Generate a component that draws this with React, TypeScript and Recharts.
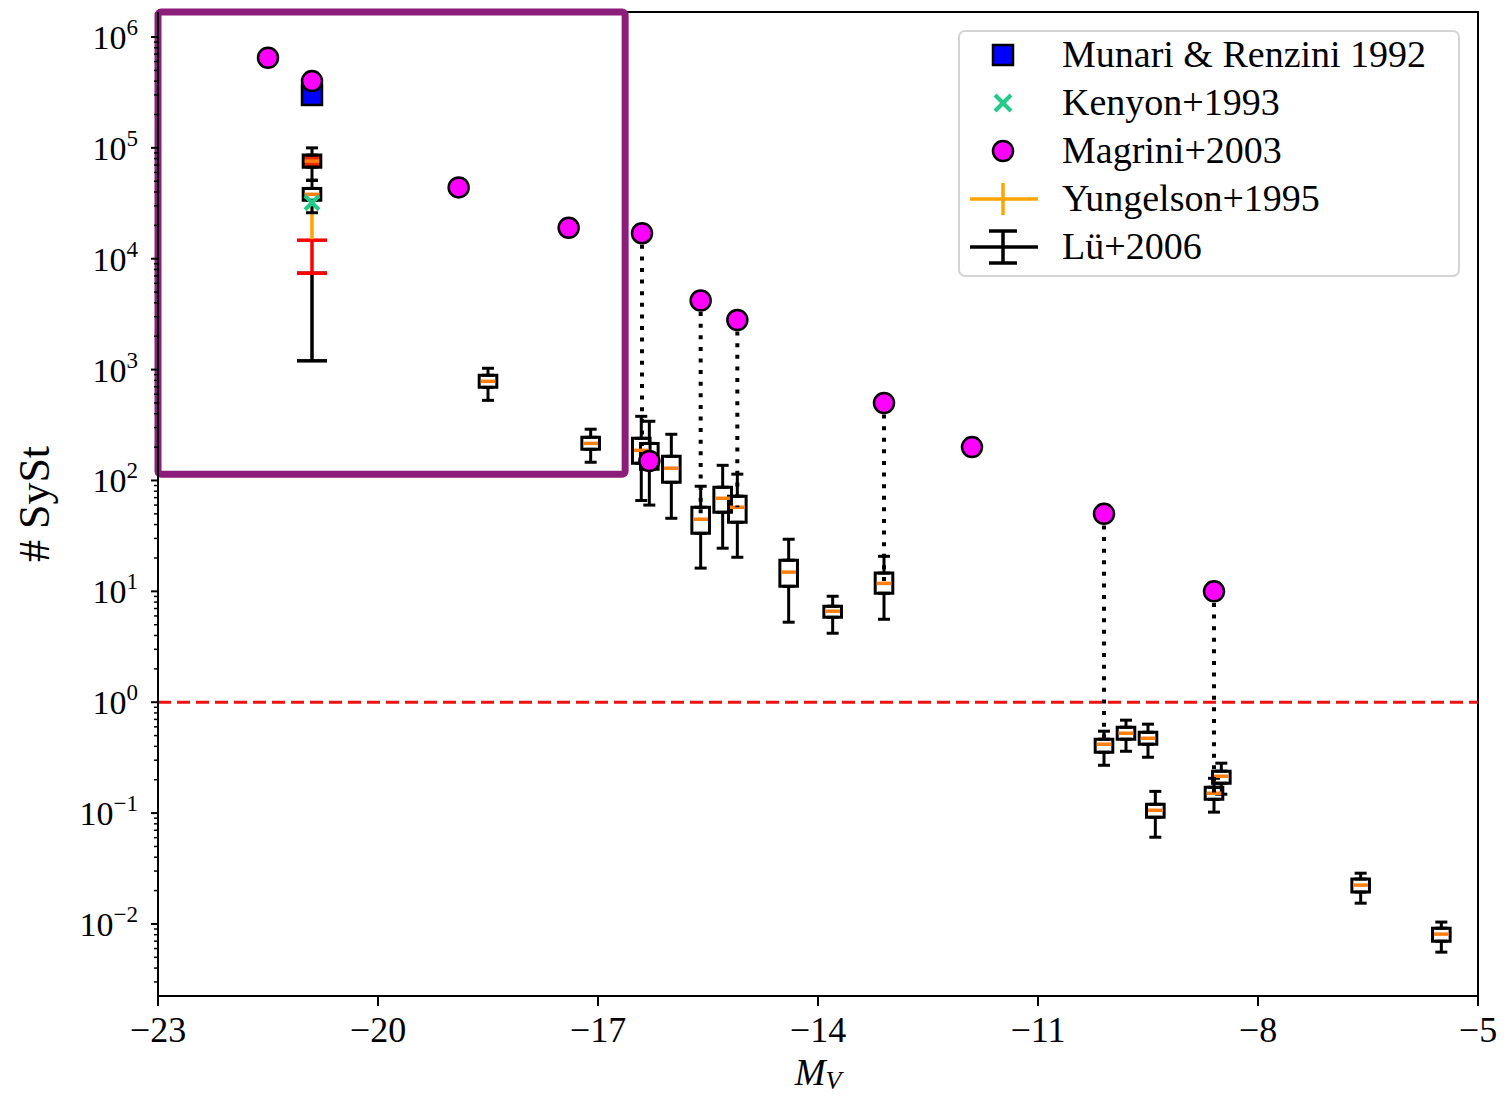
import React from "react";
import {
  ComposedChart,
  ErrorBar,
  Legend,
  ReferenceArea,
  ReferenceLine,
  Scatter,
  XAxis,
  YAxis,
} from "recharts";

// Magrini+2003 (circles)
const magriniMv = [-21.5, -20.9, -18.9, -17.4, -16.4, -16.3, -15.6, -15.1, -13.1, -11.9, -10.1, -8.6];
const magriniN = [6.5e5, 4.0e5, 4.4e4, 1.9e4, 1.7e4, 150, 4.2e3, 2.8e3, 500, 200, 50, 10];

// single literature points at M_V = -20.9
const munariMv = [-20.9];
const munariN = [3.0e5];
const kenyonMv = [-20.9];
const kenyonN = [3.2e4];
const yungelsonMv = [-20.9];
const yungelsonLo = [1.5e4];
const yungelsonHi = [3.4e4];
const luMv = [-20.9];
const luLo = [1.2e3];
const luHi = [7.4e3];
const luRedLo = [7.4e3];
const luRedHi = [1.47e4];

// box plots: whisker low, q1, median, q3, whisker high
const boxMv = [-20.9, -20.9, -18.5, -17.1, -16.41, -16.3, -16.0, -15.6, -15.3, -15.1, -14.4, -13.8, -13.1, -10.1, -9.8, -9.5, -9.4, -8.6, -8.5, -6.6, -5.5];
const boxLo = [5.1e4, 2.6e4, 528, 146, 66, 60, 45.6, 16.2, 24.5, 20.3, 5.27, 4.19, 5.6, 0.27, 0.361, 0.319, 0.0606, 0.102, 0.148, 0.0154, 0.00557];
const boxQ1 = [6.7e4, 3.36e4, 692, 191, 143, 126, 96.3, 33.4, 51.7, 42, 11.1, 5.84, 9.62, 0.354, 0.464, 0.418, 0.0918, 0.133, 0.186, 0.0194, 0.007];
const boxMed = [7.6e4, 3.81e4, 784, 216, 187, 172, 129, 44.7, 69.1, 57.3, 14.9, 6.62, 11.8, 0.418, 0.525, 0.473, 0.106, 0.151, 0.215, 0.0224, 0.0081];
const boxQ3 = [8.6e4, 4.31e4, 889, 245, 240, 216, 165, 57.3, 86.9, 72.1, 19.1, 7.34, 14.6, 0.464, 0.595, 0.536, 0.12, 0.171, 0.239, 0.0254, 0.00916];
const boxHi = [1.0e5, 5.1e4, 1028, 290, 379, 342, 261, 88.7, 137, 114, 29.5, 9.03, 20.7, 0.548, 0.689, 0.634, 0.157, 0.206, 0.282, 0.0287, 0.0104];

// dotted links: [magrini index, box index]
const links = [[4, 4], [6, 7], [7, 9], [8, 12], [10, 13], [11, 17]];

const xTicks = [-23, -20, -17, -14, -11, -8, -5];
const yMajor = [1e-2, 1e-1, 1e0, 1e1, 1e2, 1e3, 1e4, 1e5, 1e6];
const yDomain = [0.00224, 1.68e6];
const xDomain = [-23, -5];
const zoomBox = { x1: -23, x2: -16.63, y1: 114 };

const legendLabels = ["Munari & Renzini 1992", "Kenyon+1993", "Magrini+2003", "Yungelson+1995", "Lü+2006"];

const FONT = "'Liberation Serif', serif";
const BOX_HALF = 0.12;
const MAGENTA = "#ff00ff";
const GREEN = "#22cc88";
const ORANGE = "#ffa500";
const MEDIAN = "#ff7f0e";
const PURPLE = "#8c1d7a";

const yMinor: number[] = [];
for (let k = -3; k <= 6; k++) {
  for (let m = 2; m <= 9; m++) {
    const v = m * Math.pow(10, k);
    if (v > yDomain[0] && v < yDomain[1]) yMinor.push(v);
  }
}
const yTicks = [...yMajor, ...yMinor].sort((a, b) => a - b);

const magriniData = magriniMv.map((x, i) => ({ x, y: magriniN[i] }));
const munariData = munariMv.map((x, i) => ({ x, y: munariN[i] }));
const kenyonData = kenyonMv.map((x, i) => ({ x, y: kenyonN[i] }));
const yungelsonData = yungelsonMv.map((x, i) => ({ x, y: yungelsonHi[i], err: [yungelsonHi[i] - yungelsonLo[i], 0] }));
const luData = luMv.map((x, i) => ({ x, y: luHi[i], err: [luHi[i] - luLo[i], 0] }));
const luRedData = luMv.map((x, i) => ({ x, y: luRedHi[i], err: [luRedHi[i] - luRedLo[i], 0] }));
const upperWhisk = boxMv.map((x, i) => ({ x, y: boxQ3[i], err: [0, boxHi[i] - boxQ3[i]] }));
const lowerWhisk = boxMv.map((x, i) => ({ x, y: boxQ1[i], err: [boxQ1[i] - boxLo[i], 0] }));

const Hidden = () => <g />;
const MagriniDot = (p: any) => (
  <circle cx={p.cx} cy={p.cy} r={10} fill={MAGENTA} stroke="#000" strokeWidth={2.5} />
);
const MunariSquare = (p: any) => (
  <rect x={p.cx - 10} y={p.cy - 10} width={20} height={20} fill="#0000ff" stroke="#000" strokeWidth={2.5} />
);
const KenyonCross = (p: any) => (
  <g stroke={GREEN} strokeWidth={4}>
    <line x1={p.cx - 7} y1={p.cy - 7} x2={p.cx + 7} y2={p.cy + 7} />
    <line x1={p.cx - 7} y1={p.cy + 7} x2={p.cx + 7} y2={p.cy - 7} />
  </g>
);

function YTick(props: any) {
  const { x, y, payload } = props;
  const e = Math.log10(payload.value);
  const major = Math.abs(e - Math.round(e)) < 1e-6;
  if (!major) {
    return <line x1={x - 4} y1={y} x2={x} y2={y} stroke="#000" strokeWidth={1.5} />;
  }
  const exp = String(Math.round(e)).replace("-", "\u2212");
  return (
    <g>
      <line x1={x - 7} y1={y} x2={x} y2={y} stroke="#000" strokeWidth={2} />
      <text x={x - 20} y={y + 12} textAnchor="end" fontFamily={FONT} fontSize={34} fill="#000">
        10
        <tspan fontSize={23} dy={-14}>{exp}</tspan>
      </text>
    </g>
  );
}

function XTick(props: any) {
  const { x, y, payload } = props;
  const label = String(payload.value).replace("-", "\u2212");
  return (
    <g>
      <line x1={x} y1={y} x2={x} y2={y + 10} stroke="#000" strokeWidth={2} />
      <text x={x} y={y + 46} textAnchor="middle" fontFamily={FONT} fontSize={36} fill="#000">
        {label}
      </text>
    </g>
  );
}

const YLabel = (p: any) => {
  const vb = p.viewBox;
  const cx = vb.x + 34;
  const cy = vb.y + vb.height / 2;
  return (
    <text x={cx} y={cy} transform={`rotate(-90 ${cx} ${cy})`} textAnchor="middle" dominantBaseline="central" fontFamily={FONT} fontSize={44} fill="#000">
      # SySt
    </text>
  );
};

const XLabel = (p: any) => {
  const vb = p.viewBox;
  return (
    <text x={vb.x + vb.width / 2} y={vb.y + 89} textAnchor="middle" fontFamily={FONT} fontSize={37} fontStyle="italic" fill="#000">
      M<tspan fontSize={26} dy={4}>V</tspan>
    </text>
  );
};

function LegendBox() {
  const mx = 45;
  const tx = 104;
  const rows = [25, 73, 121, 169, 217];
  return (
    <div
      style={{
        width: 502,
        height: 247,
        boxSizing: "border-box",
        border: "2px solid #d4d4d4",
        borderRadius: 7,
        background: "rgba(255,255,255,0.85)",
      }}
    >
      <svg width={498} height={243} style={{ display: "block", margin: "-2px 0 0 -2px" }} overflow="visible">
        <rect x={mx - 10} y={rows[0] - 10} width={20} height={20} fill="#0000ff" stroke="#000" strokeWidth={2.5} />
        <g stroke={GREEN} strokeWidth={4}>
          <line x1={mx - 8} y1={rows[1] - 8} x2={mx + 8} y2={rows[1] + 8} />
          <line x1={mx - 8} y1={rows[1] + 8} x2={mx + 8} y2={rows[1] - 8} />
        </g>
        <circle cx={mx} cy={rows[2]} r={10} fill={MAGENTA} stroke="#000" strokeWidth={2.5} />
        <g stroke={ORANGE} strokeWidth={3.5}>
          <line x1={mx - 33} y1={rows[3]} x2={mx + 35} y2={rows[3]} />
          <line x1={mx} y1={rows[3] - 16} x2={mx} y2={rows[3] + 16} />
        </g>
        <g stroke="#000" strokeWidth={3.5}>
          <line x1={mx - 33} y1={rows[4]} x2={mx + 35} y2={rows[4]} />
          <line x1={mx} y1={rows[4] - 16} x2={mx} y2={rows[4] + 16} />
          <line x1={mx - 14} y1={rows[4] - 16} x2={mx + 14} y2={rows[4] - 16} />
          <line x1={mx - 14} y1={rows[4] + 16} x2={mx + 14} y2={rows[4] + 16} />
        </g>
        {legendLabels.map((l, i) => (
          <text key={l} x={tx} y={rows[i] + 12} fontFamily={FONT} fontSize={38} fill="#000">
            {l}
          </text>
        ))}
      </svg>
    </div>
  );
}

export default function App() {
  return (
    <div style={{ position: "absolute", left: 0, top: 0, background: "#fff", fontFamily: FONT }}>
      <ComposedChart width={1508} height={1097} margin={{ top: 12, right: 30, bottom: 0, left: 0 }}>
        <XAxis
          type="number"
          dataKey="x"
          domain={xDomain}
          ticks={xTicks}
          allowDataOverflow
          interval={0}
          height={101}
          tickSize={0}
          tickMargin={0}
          tickLine={false}
          tick={<XTick />}
          axisLine={{ stroke: "#000", strokeWidth: 2 }}
          label={{ content: XLabel }}
        />
        <YAxis
          type="number"
          dataKey="y"
          scale="log"
          domain={yDomain}
          ticks={yTicks}
          allowDataOverflow
          interval={0}
          width={158}
          tickSize={0}
          tickMargin={0}
          tickLine={false}
          tick={<YTick />}
          axisLine={{ stroke: "#000", strokeWidth: 2 }}
          label={{ content: YLabel }}
        />

        {/* frame */}
        <ReferenceArea x1={xDomain[0]} x2={xDomain[1]} y1={yDomain[0]} y2={yDomain[1]} fill="none" stroke="#000" strokeWidth={2} ifOverflow="visible" />

        <ReferenceLine y={1} stroke="#ee1111" strokeWidth={3} strokeDasharray="13 6" />

        {/* Lü+2006 error bars */}
        <Scatter data={luData} shape={Hidden} isAnimationActive={false} legendType="none">
          <ErrorBar dataKey="err" direction="y" width={15} stroke="#000" strokeWidth={3.5} isAnimationActive={false} />
        </Scatter>
        <Scatter data={luRedData} shape={Hidden} isAnimationActive={false} legendType="none">
          <ErrorBar dataKey="err" direction="y" width={15} stroke="#ff0000" strokeWidth={3.5} isAnimationActive={false} />
        </Scatter>
        <Scatter data={yungelsonData} shape={Hidden} isAnimationActive={false} legendType="none">
          <ErrorBar dataKey="err" direction="y" width={0} stroke={ORANGE} strokeWidth={3.5} isAnimationActive={false} />
        </Scatter>

        {/* boxes */}
        {boxMv.map((x, i) => (
          <ReferenceArea
            key={`b${i}`}
            x1={x - BOX_HALF}
            x2={x + BOX_HALF}
            y1={boxQ1[i]}
            y2={boxQ3[i]}
            fill={i === 0 ? "#ee2a00" : "none"}
            fillOpacity={1}
            stroke="#000"
            strokeWidth={3}
            ifOverflow="visible"
          />
        ))}
        <Scatter data={upperWhisk} shape={Hidden} isAnimationActive={false} legendType="none">
          <ErrorBar dataKey="err" direction="y" width={6} stroke="#000" strokeWidth={3} isAnimationActive={false} />
        </Scatter>
        <Scatter data={lowerWhisk} shape={Hidden} isAnimationActive={false} legendType="none">
          <ErrorBar dataKey="err" direction="y" width={6} stroke="#000" strokeWidth={3} isAnimationActive={false} />
        </Scatter>
        {boxMv.map((x, i) => (
          <ReferenceLine
            key={`m${i}`}
            segment={[
              { x: x - BOX_HALF + 0.02, y: boxMed[i] },
              { x: x + BOX_HALF - 0.02, y: boxMed[i] },
            ]}
            stroke={MEDIAN}
            strokeWidth={3.5}
            ifOverflow="visible"
          />
        ))}

        <Scatter data={kenyonData} shape={KenyonCross} isAnimationActive={false} legendType="none" />
        <Scatter data={munariData} shape={MunariSquare} isAnimationActive={false} legendType="none" />
        <Scatter data={magriniData} shape={MagriniDot} isAnimationActive={false} legendType="none" />

        {links.map(([m, b]) => (
          <ReferenceLine
            key={`l${m}`}
            segment={[
              { x: magriniMv[m], y: magriniN[m] },
              { x: magriniMv[m], y: boxMed[b] },
            ]}
            stroke="#000"
            strokeWidth={4}
            strokeDasharray="4 7.6"
          />
        ))}

        {/* zoom region */}
        <ReferenceArea
          x1={zoomBox.x1}
          x2={zoomBox.x2}
          y1={zoomBox.y1}
          y2={yDomain[1]}
          fill="none"
          stroke={PURPLE}
          strokeWidth={7}
          radius={3}
          ifOverflow="visible"
        />

        <Legend
          layout="vertical"
          align="center"
          verticalAlign="middle"
          content={() => <LegendBox />}
          wrapperStyle={{ top: 30, left: 958, width: 502, height: 247 }}
        />
      </ComposedChart>
    </div>
  );
}
